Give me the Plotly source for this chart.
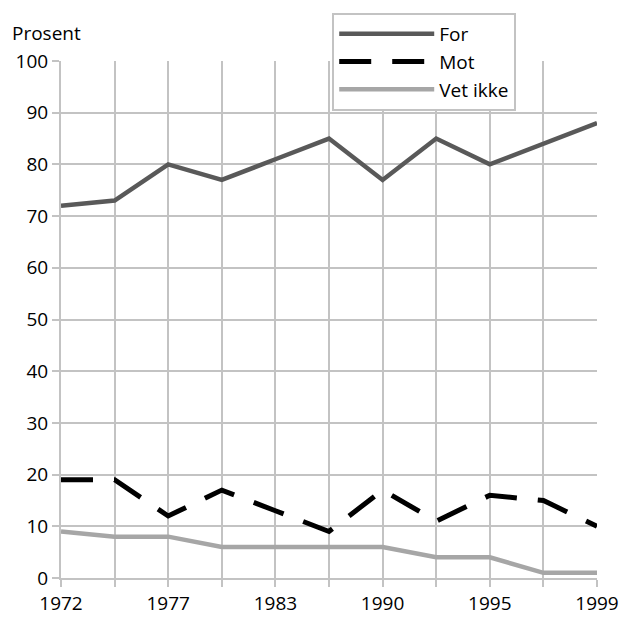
import plotly.graph_objects as go

years = ["1972", "1974", "1977", "1980", "1983", "1986", "1990", "1993", "1995", "1997", "1999"]
tick_labels = ["1972", "", "1977", "", "1983", "", "1990", "", "1995", "", "1999"]
for_vals = [72, 73, 80, 77, 81, 85, 77, 85, 80, 84, 88]
mot_vals = [19, 19, 12, 17, 13, 9, 17, 11, 16, 15, 10]
vet_vals = [9, 8, 8, 6, 6, 6, 6, 4, 4, 1, 1]

FONT = "Open Sans, Noto Sans, sans-serif"
GRID = "#c3c3c3"

fig = go.Figure()
fig.add_trace(go.Scatter(x=years, y=for_vals, name="For", mode="lines",
                         line=dict(color="#595959", width=4.5)))
fig.add_trace(go.Scatter(x=years, y=mot_vals, name="Mot", mode="lines",
                         line=dict(color="#000000", width=5, dash="32px,21px")))
fig.add_trace(go.Scatter(x=years, y=vet_vals, name="Vet ikke", mode="lines",
                         line=dict(color="#a6a6a6", width=4.5)))

fig.update_layout(
    width=622, height=621,
    margin=dict(l=61, r=25, t=61, b=43, autoexpand=False),
    paper_bgcolor="white", plot_bgcolor="white",
    font=dict(family=FONT, size=19, color="#000000"),
    showlegend=True,
    legend=dict(x=0.506, y=1.093, xanchor="left", yanchor="top",
                bgcolor="white", bordercolor=GRID, borderwidth=2,
                font=dict(family=FONT, size=19), tracegroupgap=0,
                itemwidth=95),
    annotations=[dict(text="Prosent", xref="paper", yref="paper",
                      x=-0.095, y=1.054, xanchor="left", yanchor="middle",
                      showarrow=False, font=dict(family=FONT, size=19))],
)
fig.update_xaxes(type="category", tickmode="array", tickvals=years, ticktext=tick_labels,
                 showgrid=True, gridcolor=GRID, gridwidth=2,
                 showline=True, linecolor=GRID, linewidth=2,
                 ticks="outside", ticklen=7, tickcolor=GRID, tickwidth=2,
                 range=[0, 10], zeroline=False, tickfont=dict(size=19),
                 automargin=False)
fig.update_yaxes(range=[0, 100], tickvals=list(range(0, 101, 10)),
                 showgrid=True, gridcolor=GRID, gridwidth=2,
                 showline=True, linecolor=GRID, linewidth=2,
                 ticks="outside", ticklen=7, tickcolor=GRID, tickwidth=2,
                 zeroline=False, tickfont=dict(size=19), automargin=False)

fig.write_html("out.html", config={"displayModeBar": False},
               post_script="document.body.style.margin='0';document.body.style.overflow='hidden';")
